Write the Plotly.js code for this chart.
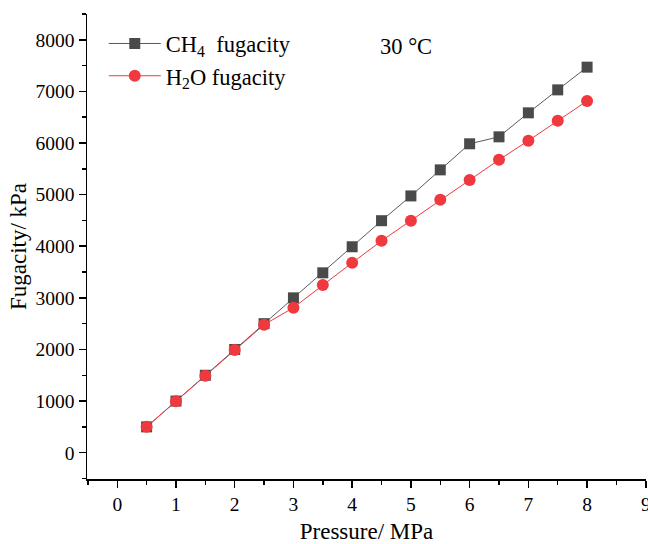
<!DOCTYPE html>
<html>
<head>
<meta charset="utf-8">
<script src="https://cdn.plot.ly/plotly-3.0.1.min.js"></script>
<style>html,body{margin:0;padding:0;background:#fff;}#chart{width:648px;height:544px;}</style>
</head>
<body>
<div id="chart"></div>
<script>
const pressure = [0.5, 1, 1.5, 2, 2.5, 3, 3.5, 4, 4.5, 5, 5.5, 6, 6.5, 7, 7.5, 8];
const ch4Fugacity = [500, 1000, 1500, 2000, 2500, 3000, 3485, 3990, 4495, 4975, 5480, 5985, 6120, 6585, 7030, 7470];
const h2oFugacity = [500, 995, 1490, 1990, 2480, 2810, 3250, 3680, 4105, 4495, 4900, 5285, 5675, 6045, 6430, 6815];
const seriesNames = ['CH<sub>4</sub>  fugacity', 'H<sub>2</sub>O fugacity'];

const font = 'Liberation Serif, Times New Roman, serif';
const traces = [
  {x: pressure, y: ch4Fugacity, name: seriesNames[0], type: 'scatter', mode: 'lines+markers',
   line: {color: '#5a5a5a', width: 1}, marker: {symbol: 'square', size: 11, color: '#4a4a4a'}},
  {x: pressure, y: h2oFugacity, name: seriesNames[1], type: 'scatter', mode: 'lines+markers',
   line: {color: '#f0393f', width: 1}, marker: {symbol: 'circle', size: 12, color: '#f0393f'}}
];
const axisCommon = {
  showline: true, linecolor: '#000', linewidth: 1.5, mirror: false,
  showgrid: false, zeroline: false,
  ticks: 'outside', ticklen: 7, tickwidth: 1.5, tickcolor: '#000',
  ticklabeloverflow: 'allow',
  tickfont: {family: font, size: 19.5, color: '#000'}
};
const layout = {
  width: 648, height: 544,
  margin: {l: 87, r: 2, t: 14, b: 65},
  paper_bgcolor: '#fff', plot_bgcolor: '#fff',
  font: {family: font, color: '#000'},
  xaxis: Object.assign({}, axisCommon, {
    range: [-0.515, 9.003], dtick: 1, tick0: 0,
    minor: {dtick: 0.5, tick0: 0, ticks: 'outside', ticklen: 4, tickwidth: 1.5, tickcolor: '#000'},
    title: {text: 'Pressure/ MPa', font: {family: font, size: 23, color: '#000'}, standoff: 10}
  }),
  yaxis: Object.assign({}, axisCommon, {
    range: [-510, 8500], dtick: 1000, tick0: 0,
    minor: {dtick: 500, tick0: 0, ticks: 'outside', ticklen: 4, tickwidth: 1.5, tickcolor: '#000'},
    title: {text: 'Fugacity/ kPa', font: {family: font, size: 23, color: '#000'}, standoff: 2}
  }),
  showlegend: true,
  legend: {x: 0.03, y: 0.982, xanchor: 'left', yanchor: 'top', bgcolor: 'rgba(0,0,0,0)',
           font: {family: font, size: 22.5, color: '#000'}, itemwidth: 52, tracegroupgap: 0},
  annotations: [{xref: 'paper', yref: 'paper', x: 0.571, y: 0.93, xanchor: 'center', yanchor: 'middle',
    text: '30 °C', showarrow: false, font: {family: font, size: 22.5, color: '#000'}}]
};
Plotly.newPlot('chart', traces, layout, {displayModeBar: false, staticPlot: true});
</script>
</body>
</html>
